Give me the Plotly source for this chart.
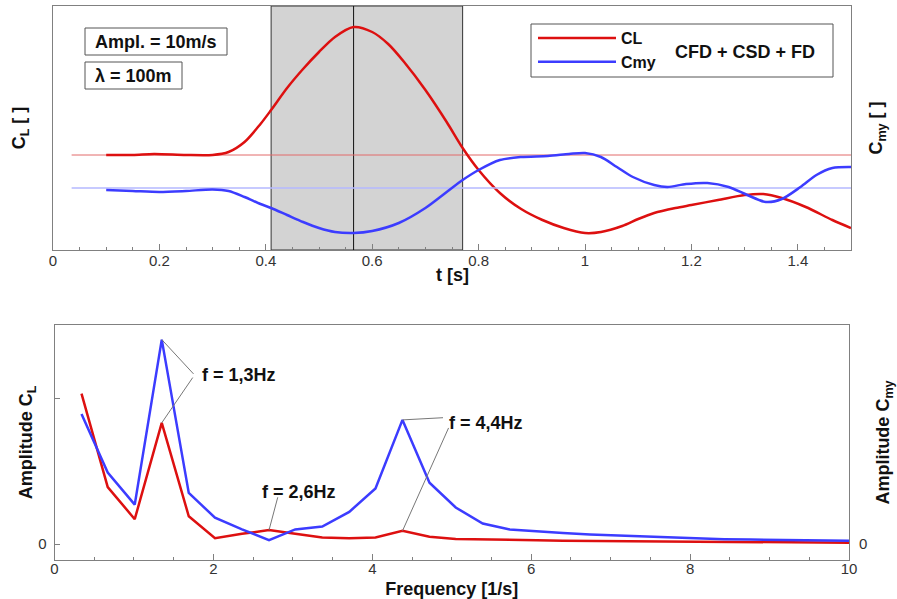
import plotly.graph_objects as go

# ---------------- data: time history (upper chart) ----------------
t_cl = [0.10, 0.15, 0.19, 0.25, 0.30, 0.33, 0.36, 0.39, 0.41, 0.44, 0.47, 0.50, 0.53, 0.565,
        0.60, 0.63, 0.66, 0.70, 0.74, 0.77, 0.80, 0.84, 0.88, 0.92, 0.96, 1.00, 1.03, 1.07,
        1.10, 1.13, 1.17, 1.20, 1.25, 1.30, 1.335, 1.37, 1.415, 1.465, 1.50]
cl = [0.00, 0.00, 0.01, 0.00, 0.00, 0.03, 0.13, 0.31, 0.45, 0.67, 0.86, 1.03, 1.18, 1.28,
      1.23, 1.11, 0.93, 0.65, 0.33, 0.07, -0.15, -0.38, -0.54, -0.65, -0.73, -0.78, -0.77, -0.71,
      -0.64, -0.58, -0.53, -0.50, -0.45, -0.40, -0.39, -0.43, -0.52, -0.65, -0.73]

t_cmy = [0.10, 0.15, 0.20, 0.25, 0.30, 0.33, 0.36, 0.39, 0.41, 0.44, 0.47, 0.50, 0.53, 0.565,
         0.60, 0.65, 0.70, 0.74, 0.77, 0.80, 0.84, 0.88, 0.93, 0.97, 1.00, 1.03, 1.06, 1.09,
         1.13, 1.155, 1.19, 1.23, 1.27, 1.305, 1.34, 1.37, 1.405, 1.435, 1.465, 1.50]
cmy = [-0.02, -0.03, -0.04, -0.03, -0.015, -0.03, -0.09, -0.16, -0.20, -0.27, -0.34, -0.40, -0.44, -0.45,
       -0.43, -0.35, -0.20, -0.04, 0.08, 0.18, 0.28, 0.31, 0.32, 0.34, 0.35, 0.31, 0.21, 0.11,
       0.03, 0.01, 0.04, 0.05, 0.01, -0.07, -0.14, -0.11, 0.01, 0.13, 0.20, 0.21]

baseline_t = [0.035, 1.5]
baseline_v = [0.0, 0.0]
window_t = [0.41, 0.77]
peak_t = 0.565

# ---------------- data: spectrum (lower chart) ----------------
freq = [0.34, 0.67, 1.01, 1.35, 1.69, 2.02, 2.36, 2.70, 3.03, 3.37, 3.71, 4.04, 4.38, 4.72, 5.05,
        5.39, 5.73, 6.07, 6.40, 6.74, 7.08, 7.42, 7.75, 8.09, 8.43, 8.76, 9.10, 9.44, 9.78, 10.11]
amp_cl = [1.03, 0.39, 0.17, 0.83, 0.19, 0.04, 0.07, 0.095, 0.07, 0.045, 0.04, 0.045, 0.09, 0.05, 0.035,
          0.03, 0.028, 0.025, 0.023, 0.022, 0.02, 0.019, 0.017, 0.016, 0.015, 0.014, 0.012, 0.011, 0.009, 0.008]
amp_cmy = [0.89, 0.49, 0.27, 1.40, 0.35, 0.18, 0.10, 0.027, 0.10, 0.12, 0.22, 0.38, 0.85, 0.42, 0.25,
           0.14, 0.10, 0.085, 0.075, 0.065, 0.058, 0.05, 0.042, 0.036, 0.033, 0.03, 0.027, 0.025, 0.023, 0.021]

x_ticks_top = [0, 0.2, 0.4, 0.6, 0.8, 1.0, 1.2, 1.4]
x_ticks_bot = [0, 2, 4, 6, 8, 10]

# ---------------- styling ----------------
W, H = 897, 599
RED = '#dd1010'
BLUE = '#3c3cff'
FRAME = '#808080'
FONT = 'Liberation Sans, Arial, sans-serif'


def fx(p):
    return p / W


def fy(p):
    return 1 - p / H


fig = go.Figure()

# thin reference lines
fig.add_trace(go.Scatter(x=baseline_t, y=baseline_v, mode='lines', xaxis='x', yaxis='y',
                         line=dict(color='#e26a6a', width=1), showlegend=False, hoverinfo='skip'))
fig.add_trace(go.Scatter(x=baseline_t, y=baseline_v, mode='lines', xaxis='x', yaxis='y2',
                         line=dict(color='#b4b9ff', width=1.5), showlegend=False, hoverinfo='skip'))
# main time histories
fig.add_trace(go.Scatter(x=t_cl, y=cl, name='CL', mode='lines', xaxis='x', yaxis='y',
                         line=dict(color=RED, width=2.5, shape='spline', smoothing=0.8),
                         legendgroup='a'))
fig.add_trace(go.Scatter(x=t_cmy, y=cmy, name='Cmy', mode='lines', xaxis='x', yaxis='y2',
                         line=dict(color=BLUE, width=2.5, shape='spline', smoothing=0.8),
                         legendgroup='b'))
# spectra
fig.add_trace(go.Scatter(x=freq, y=amp_cmy, name='Amplitude Cmy', mode='lines', xaxis='x2', yaxis='y4',
                         line=dict(color=BLUE, width=2.5), showlegend=False))
fig.add_trace(go.Scatter(x=freq, y=amp_cl, name='Amplitude CL', mode='lines', xaxis='x2', yaxis='y3',
                         line=dict(color=RED, width=2.5), showlegend=False))

tickfont = dict(family=FONT, size=15, color='#333333')
titlefont = dict(family=FONT, size=18, color='#111111')

top_y_range = [-0.95, 1.49]
top_y2_range = [-0.62, 1.82]
bot_y_range = [-0.1096, 1.5]

fig.update_layout(
    width=W, height=H,
    margin=dict(l=0, r=0, t=0, b=0, autoexpand=False),
    paper_bgcolor='white', plot_bgcolor='white',
    font=dict(family=FONT, color='#111111'),
    showlegend=True,
    legend=dict(x=fx(533), y=fy(21), xanchor='left', yanchor='top',
                bgcolor='rgba(0,0,0,0)', borderwidth=0,
                font=dict(family=FONT, size=16, color='#111111', weight='bold'),
                itemwidth=78, tracegroupgap=0, traceorder='grouped'),
    xaxis=dict(domain=[fx(53), fx(851)], anchor='y', range=[0, 1.5], automargin=False,
               tickvals=x_ticks_top, ticktext=['0', '0.2', '0.4', '0.6', '0.8', '1', '1.2', '1.4'],
               ticks='inside', ticklen=6, tickcolor=FRAME, ticklabelstandoff=-3,
               minor=dict(dtick=0.05, tick0=0, ticks='inside', ticklen=3, tickcolor=FRAME, showgrid=False),
               showline=True, mirror=True, linecolor=FRAME, linewidth=1,
               showgrid=False, zeroline=False, tickfont=tickfont),
    yaxis=dict(domain=[fy(250), fy(6)], anchor='x', range=top_y_range, automargin=False,
               showticklabels=False, ticks='', showline=True, mirror=True,
               linecolor=FRAME, linewidth=1, showgrid=False, zeroline=False,
               title=dict(text='<b>C<sub>L</sub> [ ]</b>', font=titlefont, standoff=21)),
    yaxis2=dict(overlaying='y', side='right', anchor='x', range=top_y2_range, automargin=False,
                showticklabels=False, ticks='', showline=False, showgrid=False, zeroline=False,
                title=dict(text='<b>C<sub>my</sub> [ ]</b>', font=titlefont, standoff=18)),
    xaxis2=dict(domain=[fx(54.5), fx(849)], anchor='y3', range=[0, 10], automargin=False,
                tickvals=x_ticks_bot, ticks='inside', ticklen=6, tickcolor=FRAME, ticklabelstandoff=-5,
                minor=dict(dtick=0.5, tick0=0, ticks='inside', ticklen=3, tickcolor=FRAME, showgrid=False),
                showline=True, mirror=True, linecolor=FRAME, linewidth=1,
                showgrid=False, zeroline=False, tickfont=tickfont,
                title=dict(text='<b>Frequency [1/s]</b>', font=titlefont, standoff=6)),
    yaxis3=dict(domain=[fy(560), fy(325)], anchor='x2', range=bot_y_range, automargin=False,
                tickvals=[0, 1], ticktext=['0', ' '], ticks='inside', ticklen=5, tickcolor=FRAME,
                ticklabelstandoff=4,
                showline=True, mirror=True, linecolor=FRAME, linewidth=1,
                showgrid=False, zeroline=False, tickfont=tickfont,
                title=dict(text='<b>Amplitude C<sub>L</sub></b>', font=titlefont, standoff=0)),
    yaxis4=dict(overlaying='y3', side='right', anchor='x2', range=bot_y_range, automargin=False,
                tickvals=[0], ticktext=['0'], ticks='', showline=False, ticklabelstandoff=9,
                showgrid=False, zeroline=False, tickfont=tickfont,
                title=dict(text='<b>Amplitude C<sub>my</sub></b>', font=titlefont, standoff=10)),
)

shapes = []
# analysis window (grey band) and peak marker
shapes.append(dict(type='rect', xref='x', yref='y domain', x0=window_t[0], x1=window_t[1], y0=0, y1=1,
                   fillcolor='#d3d3d3', line=dict(color='#333333', width=1), layer='below'))
shapes.append(dict(type='line', xref='x', yref='y domain', x0=peak_t, x1=peak_t, y0=0, y1=1,
                   line=dict(color='#111111', width=1), layer='below'))
# info boxes
shapes.append(dict(type='rect', xref='paper', yref='paper', x0=fx(85), x1=fx(227), y0=fy(55), y1=fy(28),
                   line=dict(color='#555555', width=1), fillcolor='white'))
shapes.append(dict(type='rect', xref='paper', yref='paper', x0=fx(85), x1=fx(182), y0=fy(89), y1=fy(62),
                   line=dict(color='#555555', width=1), fillcolor='white'))
# legend frame
shapes.append(dict(type='rect', xref='paper', yref='paper', x0=fx(531), x1=fx(833), y0=fy(77), y1=fy(24),
                   line=dict(color='#555555', width=1), fillcolor='rgba(0,0,0,0)'))

# leader lines for frequency labels (from label to data points)
i13 = 3
i26 = 7
i44 = 12
lead = dict(color='#777777', width=1)
shapes.append(dict(type='line', xref='x2', yref='y3', x0=1.75, y0=1.165, x1=freq[i13], y1=amp_cmy[i13], line=lead))
shapes.append(dict(type='line', xref='x2', yref='y3', x0=1.74, y0=1.14, x1=freq[i13], y1=amp_cl[i13], line=lead))
shapes.append(dict(type='line', xref='x2', yref='y3', x0=2.81, y0=0.32, x1=freq[i26], y1=amp_cl[i26], line=lead))
shapes.append(dict(type='line', xref='x2', yref='y3', x0=4.89, y0=0.865, x1=freq[i44], y1=amp_cmy[i44], line=lead))
shapes.append(dict(type='line', xref='x2', yref='y3', x0=4.96, y0=0.795, x1=freq[i44], y1=amp_cl[i44], line=lead))
fig.update_layout(shapes=shapes)

ann_font = dict(family=FONT, size=18, color='#111111')
annotations = [
    # x-axis title of the upper chart (sits between tick labels, as in the original)
    dict(text='<b>t [s]</b>', xref='paper', yref='paper', x=fx(452), y=fy(275.5),
         showarrow=False, font=titlefont, xanchor='center', yanchor='middle'),
    dict(text='<b>Ampl. = 10m/s</b>', xref='paper', yref='paper', x=fx(156), y=fy(42),
         showarrow=False, font=ann_font, xanchor='center', yanchor='middle'),
    dict(text='<b>λ = 100m</b>', xref='paper', yref='paper', x=fx(133.5), y=fy(76),
         showarrow=False, font=ann_font, xanchor='center', yanchor='middle'),
    dict(text='<b>CFD + CSD + FD</b>', xref='paper', yref='paper', x=fx(745), y=fy(52),
         showarrow=False, font=ann_font, xanchor='center', yanchor='middle'),
    dict(text='<b>f = 1,3Hz</b>', xref='x2', yref='y3', x=1.83, y=1.158,
         showarrow=False, font=ann_font, xanchor='left', yanchor='middle'),
    dict(text='<b>f = 2,6Hz</b>', xref='x2', yref='y3', x=2.585, y=0.356,
         showarrow=False, font=ann_font, xanchor='left', yanchor='middle'),
    dict(text='<b>f = 4,4Hz</b>', xref='x2', yref='y3', x=4.94, y=0.83,
         showarrow=False, font=ann_font, xanchor='left', yanchor='middle'),
]
fig.update_layout(annotations=annotations)

fig.write_html('out.html')
